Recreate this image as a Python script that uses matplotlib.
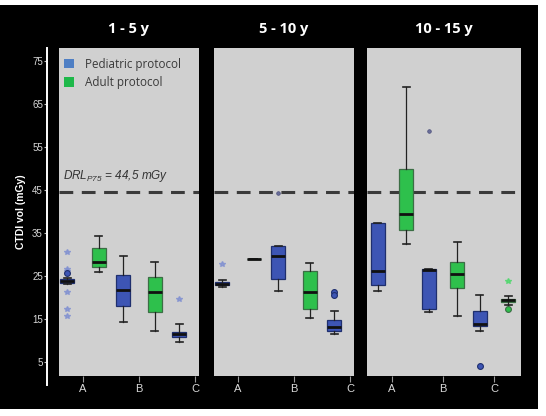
import matplotlib
matplotlib.use("Agg")
import matplotlib.pyplot as plt
from matplotlib.patches import Rectangle, Patch

plt.rcParams['mathtext.fontset'] = 'custom'
plt.rcParams['mathtext.it'] = 'Liberation Sans:italic'
plt.rcParams['mathtext.rm'] = 'Liberation Sans:italic'

# ---------------- data ----------------
age_groups = ["1 - 5 y", "5 - 10 y", "10 - 15 y"]
centers = ["A", "B", "C"]
yticks = [5, 15, 25, 35, 45, 55, 65, 75]
drl_value = 44.5

# Pediatric protocol (per age group, per centre A, B, C)
ped_whislo = [[23.0, 14.3, 9.7], [22.4, 21.5, 11.4], [21.4, 16.5, 12.2]]
ped_q1     = [[23.4, 18.0, 10.7], [22.8, 24.3, 12.1], [22.9, 17.2, 13.3]]
ped_med    = [[23.8, 21.6, 11.4], [23.2, 29.7, 13.0], [26.1, 26.3, 13.7]]
ped_q3     = [[24.2, 25.2, 12.0], [23.5, 31.9, 14.7], [37.2, 26.7, 16.9]]
ped_whishi = [[24.5, 29.7, 13.7], [24.0, 31.9, 16.9], [37.2, 26.7, 20.6]]
ped_stars   = [[[30.6, 26.6, 26.2, 21.3, 17.4, 15.6], [], [19.5]],
               [[27.7], [], []],
               [[], [], []]]
ped_circles = [[[25.6], [], []],
               [[], [], [21.3, 20.5]],
               [[], [], [4.1]]]
ped_dots    = [[[], [], []],
               [[], [44.3], []],
               [[], [58.8], []]]

# Adult protocol (None = no data)
adult_whislo = [[25.8, 12.1, None], [29.0, 15.2, None], [32.4, 15.6, 18.2]]
adult_q1     = [[27.0, 16.6, None], [29.0, 17.3, None], [35.6, 22.1, 19.0]]
adult_med    = [[28.3, 21.2, None], [29.0, 21.2, None], [39.5, 25.5, 19.3]]
adult_q3     = [[31.4, 24.8, None], [29.0, 26.2, None], [49.8, 28.3, 19.7]]
adult_whishi = [[34.2, 28.3, None], [29.0, 28.0, None], [69.0, 32.8, 20.3]]
adult_stars   = [[[], [], []], [[], [], []], [[], [], [23.8]]]
adult_circles = [[[], [], []], [[], [], []], [[], [], [17.4]]]
adult_dots    = [[[], [], []], [[], [], []], [[], [], []]]

# ---------------- style ----------------
BLUE = "#3D55B4"
BLUE_EDGE = "#1F2F6E"
GREEN = "#2EC04C"
GREEN_EDGE = "#3C6E45"
PANEL_BG = "#D0D0D0"
TXT = "#D8D8D8"

fig = plt.figure(figsize=(5.46, 4.16), dpi=100)
fig.patch.set_facecolor("white")
bg = Rectangle((0, 0.0168), 0.9853, 0.971, transform=fig.transFigure,
               facecolor="black", edgecolor="none", zorder=-10)
fig.patches.append(bg)

W, H = 546.0, 416.0
panels_px = [(59, 199), (214, 354), (367, 521)]
top_px, bot_px = 48, 376
xlims = [(-0.43, 2.07), (-0.43, 2.07), (-0.49, 2.53)]
widths = [0.25, 0.25, 0.28]
offset = 0.28
ylim = (1.7, 78.0)

axes = []
for i, (x0, x1) in enumerate(panels_px):
    ax = fig.add_axes([x0 / W, 1 - bot_px / H, (x1 - x0) / W, (bot_px - top_px) / H])
    ax.set_zorder(1)
    ax.set_facecolor(PANEL_BG)
    ax.set_xlim(*xlims[i])
    ax.set_ylim(*ylim)
    for s in ax.spines.values():
        s.set_visible(False)
    axes.append(ax)

    def stats(wl, q1, med, q3, wh):
        out = []
        for j in range(3):
            if med[j] is None:
                continue
            out.append((j, dict(whislo=wl[j], q1=q1[j], med=med[j], q3=q3[j],
                                whishi=wh[j], fliers=[])))
        return out

    for series, (wl, q1, med, q3, wh), fc, ec, off, stars, circs, dots in [
        ("ped", (ped_whislo[i], ped_q1[i], ped_med[i], ped_q3[i], ped_whishi[i]),
         BLUE, BLUE_EDGE, -offset, ped_stars[i], ped_circles[i], ped_dots[i]),
        ("adult", (adult_whislo[i], adult_q1[i], adult_med[i], adult_q3[i], adult_whishi[i]),
         GREEN, GREEN_EDGE, offset, adult_stars[i], adult_circles[i], adult_dots[i]),
    ]:
        st = stats(wl, q1, med, q3, wh)
        if st:
            pos = [j + off for j, _ in st]
            ax.bxp([d for _, d in st], positions=pos, widths=widths[i],
                   patch_artist=True, showfliers=False, manage_ticks=False,
                   boxprops=dict(facecolor=fc, edgecolor=ec, linewidth=0.9),
                   medianprops=dict(color="#111111", linewidth=2.0),
                   whiskerprops=dict(color="#222222", linewidth=0.9),
                   capprops=dict(color="#222222", linewidth=1.2),
                   capwidths=widths[i] * 0.5, zorder=3)
        for j in range(3):
            if stars[j]:
                ax.plot([j + off] * len(stars[j]), stars[j], linestyle="none",
                        marker="*", markersize=4.0,
                        color=("#8090D0" if series == "ped" else "#4CD86A"),
                        alpha=0.8, zorder=4)
            if circs[j]:
                ax.plot([j + off] * len(circs[j]), circs[j], linestyle="none",
                        marker="o", markersize=4.2, markerfacecolor=fc,
                        markeredgecolor=ec, markeredgewidth=0.8, zorder=4)
            if dots[j]:
                ax.plot([j + off] * len(dots[j]), dots[j], linestyle="none",
                        marker="o", markersize=2.6, markerfacecolor="#6A6E9A",
                        markeredgecolor="#4A4E7A", markeredgewidth=0.5, zorder=4)

    ax.axhline(drl_value, color="#3A3A3A", linewidth=2.2, linestyle=(0, (4.5, 2.8)), zorder=2)

    ax.set_xticks(range(3))
    ax.set_xticklabels(centers, fontsize=8, color=TXT, family="Liberation Sans")
    ax.tick_params(axis="x", length=4, width=0.8, color="#9A9A9A", direction="out", pad=2)
    ax.set_title(age_groups[i], color="white", fontsize=10.5, fontweight="bold",
                 family="Open Sans", pad=11)
    if i == 0:
        ax.spines["left"].set_visible(True)
        ax.spines["left"].set_position(("outward", 8.6))
        ax.spines["left"].set_color("white")
        ax.spines["left"].set_linewidth(1.4)
        ax.spines["left"].set_bounds(-0.4, ylim[1])
        ax.set_yticks(yticks)
        ax.set_yticklabels([str(v) for v in yticks], fontsize=7, color=TXT,
                           family="Liberation Sans")
        ax.tick_params(axis="y", length=2, width=0.8, color="#BBBBBB", pad=1)
        ax.set_ylabel("CTDI vol (mGy)", color="white", fontsize=7.5, fontweight="bold",
                      family="Liberation Sans", labelpad=4)
    else:
        ax.set_yticks([])

# DRL label
axes[0].text(0.03, 0.585, r"$DRL_{P75}$ = 44,5 mGy", transform=axes[0].transAxes,
             fontsize=8.5, style="italic", color="#333333", family="Liberation Sans",
             va="bottom", ha="left")

# legend
handles = [Patch(facecolor="#4F7FC4", edgecolor="none", label="Pediatric protocol"),
           Patch(facecolor="#1EB84A", edgecolor="none", label="Adult protocol")]
leg = axes[0].legend(handles=handles, loc="upper left", bbox_to_anchor=(0.0, 0.985),
                     frameon=False,
                     prop={"family": "Open Sans", "size": 8.4}, handlelength=0.9,
                     handleheight=0.9, handletextpad=0.9, borderaxespad=0.2,
                     labelspacing=0.45, borderpad=0.2)
for t in leg.get_texts():
    t.set_color("#3A3A3A")

fig.savefig("out.png", dpi=100, facecolor=fig.get_facecolor())
